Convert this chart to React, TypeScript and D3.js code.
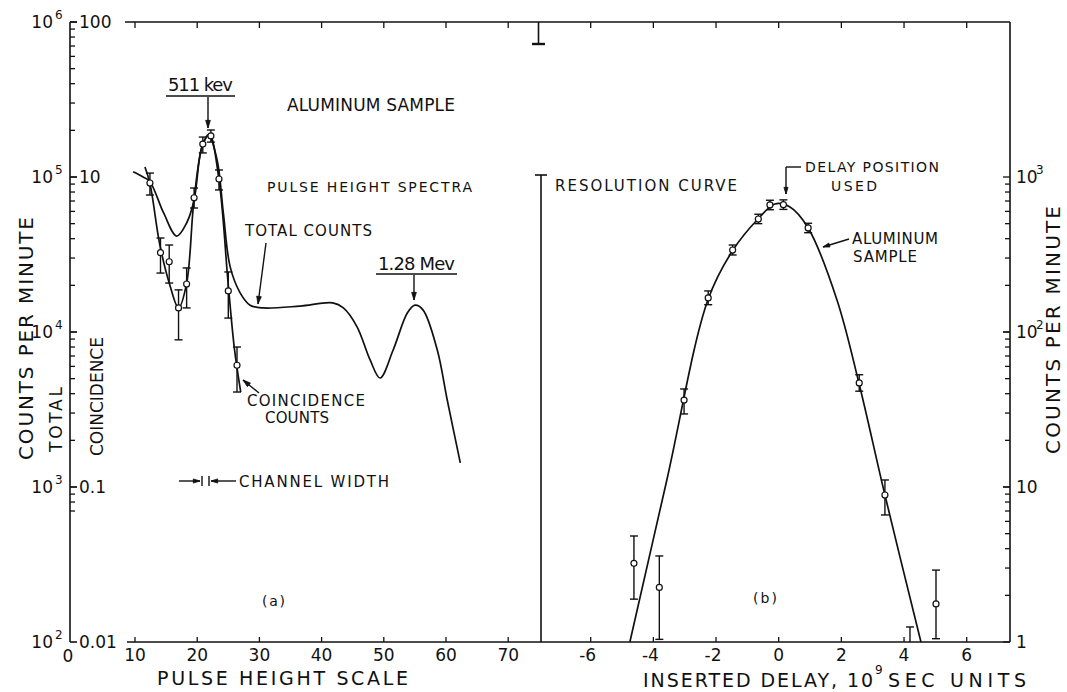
import React from 'react';
import * as d3 from 'd3';

const W = 1067;
const H = 692;
const FONT = "'DejaVu Sans', 'Liberation Sans', sans-serif";

// ---- (a) pulse height spectra ----
const pulseTicks = [10, 20, 30, 40, 50, 60, 70];

// smooth total-counts spectrum (counts per minute)
const totalPulse = [9.7, 11.3, 12.4, 14.6, 16.7, 18.3, 19.5, 20.7, 21.8, 23.2, 24.2, 25.3, 26.9, 28.5, 30.6, 36.5, 41.8, 43.5, 45.7, 47.8, 49.4, 51.5, 53.8, 55.0, 56.3, 58.6, 60.2, 62.3];
const totalCounts = [1.08e5, 1.0e5, 9.33e4, 5.86e4, 4.16e4, 5.05e4, 7.11e4, 1.54e5, 1.87e5, 1.29e5, 5.86e4, 2.63e4, 1.79e4, 1.49e4, 1.43e4, 1.47e4, 1.54e4, 1.43e4, 1.08e4, 6.6e3, 5.05e3, 7.65e3, 1.33e4, 1.49e4, 1.39e4, 7.65e3, 3.64e3, 1.43e3];

// coincidence counts, measured points with error bars
const coincPulse = [12.4, 14.1, 15.5, 17.0, 18.3, 19.5, 20.9, 22.2, 23.5, 25.0, 26.4];
const coincRate = [9.15, 3.25, 2.84, 1.43, 2.04, 7.35, 16.3, 18.4, 9.71, 1.84, 0.61];
const coincLow = [7.65, 2.4, 2.07, 0.89, 1.43, 6.31, 14.3, 16.8, 8.25, 1.23, 0.41];
const coincHigh = [10.6, 4.04, 3.64, 1.87, 2.59, 8.49, 18.1, 20.1, 11.1, 2.44, 0.8];

// coincidence curve drawn through the points
const coincCurvePulse = [11.6, 12.4, 14.0, 15.6, 17.0, 18.3, 19.5, 20.9, 22.0, 23.5, 25.0, 26.0, 27.0];
const coincCurveRate = [11.6, 9.1, 3.64, 2.01, 1.43, 2.06, 7.2, 16.2, 18.7, 9.6, 2.0, 0.77, 0.41];

const totalLabels = ['6', '5', '4', '3', '2'];
const totalLabelValues = [1e6, 1e5, 1e4, 1e3, 1e2];
const coincLabels = ['100', '10', '0.1', '0.01'];
const coincLabelValues = [100, 10, 0.1, 0.01];

// ---- (b) resolution curve ----
const delayTicks = [-6, -4, -2, 0, 2, 4, 6];
const delay = [-4.62, -3.81, -3.02, -2.25, -1.47, -0.65, -0.28, 0.15, 0.94, 2.57, 3.39, 5.02];
const resRate = [3.22, 2.25, 36.4, 166, 338, 536, 660, 663, 469, 46.9, 8.88, 1.76];
const resLow = [1.89, 1.04, 29.6, 150, 314, 500, 615, 618, 437, 41.5, 6.6, 1.05];
const resHigh = [4.83, 3.59, 42.9, 184, 364, 575, 708, 712, 503, 53, 11.1, 2.91];
// point below the scale, only its upper error is visible
const lostDelay = [4.19];
const lostHigh = [1.25];

const fitDelay = [-4.75, -3.57, -2.26, -1.46, -0.66, -0.12, 0.36, 0.94, 1.86, 2.56, 3.39, 4.54];
const fitRate = [1.0, 11.1, 161, 338, 536, 670, 640, 469, 161, 46.9, 8.88, 1.0];

const resLabels = ['1', '10', '10', '10'];
const resSup = ['', '', '2', '3'];
const resLabelValues = [1, 10, 100, 1000];

type ArrowProps = { x1: number; y1: number; x2: number; y2: number; head?: number };
function Arrow({ x1, y1, x2, y2, head = 8 }: ArrowProps) {
  const a = Math.atan2(y2 - y1, x2 - x1);
  const s = 0.3;
  const p1 = [x2 - head * Math.cos(a - s), y2 - head * Math.sin(a - s)];
  const p2 = [x2 - head * Math.cos(a + s), y2 - head * Math.sin(a + s)];
  return (
    <g>
      <line x1={x1} y1={y1} x2={x2} y2={y2} stroke="#111" strokeWidth={1.4} />
      <path d={`M${p1[0]},${p1[1]}L${x2},${y2}L${p2[0]},${p2[1]}Z`} fill="#111" stroke="#111" strokeWidth={0.8} />
    </g>
  );
}

type LabelProps = { x: number; y: number; text: string; size: number; len?: number; anchor?: string; rotate?: boolean };
function Label({ x, y, text, size, len, anchor = 'start', rotate = false }: LabelProps) {
  return (
    <text
      x={rotate ? 0 : x}
      y={rotate ? 0 : y}
      transform={rotate ? `translate(${x},${y}) rotate(-90)` : undefined}
      fontFamily={FONT}
      fontSize={size}
      textAnchor={anchor}
      fill="#111"
      textLength={len}
      lengthAdjust={len ? 'spacing' : undefined}
    >
      {text}
    </text>
  );
}

export default function App() {
  const xA = d3.scaleLinear().domain([0, 70]).range([72.8, 508.2]);
  const xB = d3.scaleLinear().domain([-6, 6]).range([590.7, 966.7]);
  const yTotal = d3.scaleLog().domain([1e2, 1e6]).range([642, 22]);
  const yCoinc = d3.scaleLog().domain([0.01, 100]).range([642, 22]);
  const yRes = d3.scaleLog().domain([1, 1e4]).range([642, 22]);

  const smooth = d3.line<[number, number]>().curve(d3.curveCatmullRom.alpha(0.5));

  const totalPath = smooth(totalPulse.map((p, i) => [xA(p), yTotal(totalCounts[i])]));
  const coincPath = smooth(coincCurvePulse.map((p, i) => [xA(p), yCoinc(coincCurveRate[i])]));
  const fitPath = smooth(fitDelay.map((d, i) => [xB(d), yRes(fitRate[i])]));

  const leftX = 70;
  const rightX = 1010;
  const top = 22;
  const bottom = 642;

  // left-axis ticks (total counts scale)
  const leftTicks: { y: number; major: boolean }[] = [];
  [1e2, 1e3, 1e4, 1e5].forEach((dec) => {
    for (let m = 1; m <= 10; m++) {
      const v = dec * m;
      if (v < 700 || v > 1e6) continue;
      leftTicks.push({ y: yTotal(v), major: m === 1 || m === 10 });
    }
  });
  const rightTicks: { y: number; major: boolean }[] = [];
  [1, 10, 100].forEach((dec) => {
    for (let m = 1; m <= 10; m++) {
      rightTicks.push({ y: yRes(dec * m), major: m === 1 || m === 10 });
    }
  });

  const ink = '#111';

  return (
    <svg
      width={W}
      height={H}
      viewBox={`0 0 ${W} ${H}`}
      style={{ position: 'absolute', left: 0, top: 0, background: '#fff' }}
    >
      <rect x={0} y={0} width={W} height={H} fill="#fff" />

      {/* frame */}
      <g stroke={ink} strokeWidth={1.6} fill="none">
        <line x1={leftX} y1={top} x2={leftX} y2={bottom} />
        <line x1={leftX} y1={top} x2={leftX + 7} y2={top} />
        <line x1={leftX} y1={bottom} x2={leftX + 7} y2={bottom} />
        <line x1={125} y1={top} x2={rightX} y2={top} />
        <line x1={127} y1={bottom} x2={rightX} y2={bottom} />
        <line x1={rightX} y1={top} x2={rightX} y2={bottom} />
        {/* divider between the two panels */}
        <line x1={541} y1={175} x2={541} y2={bottom} />
        <line x1={535} y1={175} x2={547} y2={175} />
        <line x1={538.5} y1={top} x2={538.5} y2={44} />
        <line x1={532} y1={44} x2={545} y2={44} strokeWidth={2.4} />
      </g>

      {/* axis ticks */}
      <g stroke={ink} strokeWidth={1.3}>
        {leftTicks.map((t, i) => (
          <line key={i} x1={leftX} y1={t.y} x2={leftX + (t.major ? 7 : 5)} y2={t.y} />
        ))}
        {rightTicks.map((t, i) => (
          <line key={i} x1={rightX} y1={t.y} x2={rightX - (t.major ? 7 : 5)} y2={t.y} />
        ))}
        {pulseTicks.map((p) => (
          <g key={p}>
            <line x1={xA(p)} y1={bottom} x2={xA(p)} y2={bottom - 5} />
            <line x1={xA(p)} y1={top} x2={xA(p)} y2={top + 6} />
          </g>
        ))}
        {delayTicks.map((d) => (
          <g key={d}>
            <line x1={xB(d)} y1={bottom} x2={xB(d)} y2={bottom - 5} />
            <line x1={xB(d)} y1={top} x2={xB(d)} y2={top + 6} />
          </g>
        ))}
      </g>

      {/* tick labels */}
      <g fontFamily={FONT} fill={ink}>
        {totalLabelValues.map((v, i) => (
          <g key={v}>
            <text x={53} y={yTotal(v) + 6} fontSize={17} textAnchor="end">10</text>
            <text x={55} y={yTotal(v) - 3} fontSize={12}>{totalLabels[i]}</text>
          </g>
        ))}
        {coincLabelValues.map((v, i) => (
          <text key={v} x={79} y={yCoinc(v) + 6} fontSize={17}>{coincLabels[i]}</text>
        ))}
        {resLabelValues.map((v, i) => (
          <g key={v}>
            <text x={1016} y={yRes(v) + 6} fontSize={17}>{resLabels[i]}</text>
            {resSup[i] && <text x={1036} y={yRes(v) - 3} fontSize={12}>{resSup[i]}</text>}
          </g>
        ))}
        <text x={68} y={662} fontSize={17} textAnchor="middle">0</text>
        {pulseTicks.map((p) => (
          <text key={p} x={xA(p)} y={661} fontSize={17} textAnchor="middle">{p}</text>
        ))}
        {delayTicks.map((d) => (
          <text key={d} x={xB(d) - (d < 0 ? 3 : 0)} y={661} fontSize={17} textAnchor="middle">
            {d < 0 ? `-${-d}` : `${d}`}
          </text>
        ))}
      </g>

      {/* axis titles */}
      <Label x={33} y={338.5} text="COUNTS PER MINUTE" size={20} len={243} anchor="middle" rotate />
      <Label x={62} y={419.5} text="TOTAL" size={17} len={65} anchor="middle" rotate />
      <Label x={103} y={396.5} text="COINCIDENCE" size={17} len={119} anchor="middle" rotate />
      <Label x={1060} y={330} text="COUNTS PER MINUTE" size={20} len={248} anchor="middle" rotate />
      <Label x={157} y={685} text="PULSE HEIGHT SCALE" size={19} len={251} />
      <Label x={643} y={687} text="INSERTED DELAY, 10" size={19} len={230} />
      <text x={875} y={674} fontFamily={FONT} fontSize={12} fill={ink}>9</text>
      <Label x={888} y={687} text="SEC UNITS" size={19} len={138} />

      {/* panel (a) annotations */}
      <Label x={287} y={111} text="ALUMINUM SAMPLE" size={17} len={168} />
      <Label x={168} y={91} text="511 kev" size={18} len={65} />
      <line x1={166} y1={96} x2={235} y2={96} stroke={ink} strokeWidth={1.5} />
      <Arrow x1={208} y1={97} x2={208} y2={128} />
      <Label x={267} y={192} text="PULSE HEIGHT SPECTRA" size={14} len={205} />
      <Label x={245} y={236} text="TOTAL COUNTS" size={15} len={127} />
      <Arrow x1={266} y1={243} x2={258} y2={304} />
      <Label x={378} y={270} text="1.28 Mev" size={18} len={77} />
      <line x1={376} y1={274} x2={457} y2={274} stroke={ink} strokeWidth={1.5} />
      <Arrow x1={414} y1={275} x2={414} y2={300} />
      <Label x={247} y={406} text="COINCIDENCE" size={15} len={118} />
      <Label x={265} y={423} text="COUNTS" size={15} len={64} />
      <Arrow x1={259} y1={393} x2={243} y2={380} />
      <Arrow x1={179} y1={481} x2={200} y2={481} head={7} />
      <line x1={202} y1={476} x2={202} y2={486} stroke={ink} strokeWidth={1.4} />
      <line x1={209} y1={476} x2={209} y2={486} stroke={ink} strokeWidth={1.4} />
      <Arrow x1={236} y1={481} x2={211} y2={481} head={7} />
      <Label x={239} y={487} text="CHANNEL WIDTH" size={15} len={150} />
      <Label x={262} y={606} text="(a)" size={14} len={23} />

      {/* panel (b) annotations */}
      <Label x={555} y={191} text="RESOLUTION CURVE" size={15} len={182} />
      <Label x={805} y={172} text="DELAY POSITION" size={14} len={134} />
      <Label x={831} y={191} text="USED" size={14} len={46} />
      <line x1={786} y1={167} x2={801} y2={167} stroke={ink} strokeWidth={1.4} />
      <Arrow x1={786} y1={167} x2={786} y2={194} head={7} />
      <Label x={852} y={244} text="ALUMINUM" size={15} len={86} />
      <Label x={853} y={262} text="SAMPLE" size={15} len={64} />
      <Arrow x1={849} y1={239} x2={823} y2={247} head={7} />
      <Label x={753} y={603} text="(b)" size={14} len={24} />

      {/* curves */}
      <g fill="none" stroke={ink} strokeWidth={1.7} strokeLinejoin="round">
        <path d={totalPath ?? ''} />
        <path d={coincPath ?? ''} />
        <path d={fitPath ?? ''} />
      </g>

      {/* measured points with error bars */}
      <g stroke={ink} strokeWidth={1.4}>
        {coincPulse.map((p, i) => {
          const x = xA(p);
          return (
            <g key={i}>
              <line x1={x} y1={yCoinc(coincLow[i])} x2={x} y2={yCoinc(coincHigh[i])} />
              <line x1={x - 4} y1={yCoinc(coincLow[i])} x2={x + 4} y2={yCoinc(coincLow[i])} />
              <line x1={x - 4} y1={yCoinc(coincHigh[i])} x2={x + 4} y2={yCoinc(coincHigh[i])} />
              <circle cx={x} cy={yCoinc(coincRate[i])} r={3} fill="#fff" strokeWidth={1.2} />
            </g>
          );
        })}
        {delay.map((d, i) => {
          const x = xB(d);
          return (
            <g key={i}>
              <line x1={x} y1={yRes(resLow[i])} x2={x} y2={yRes(resHigh[i])} />
              <line x1={x - 4} y1={yRes(resLow[i])} x2={x + 4} y2={yRes(resLow[i])} />
              <line x1={x - 4} y1={yRes(resHigh[i])} x2={x + 4} y2={yRes(resHigh[i])} />
              <circle cx={x} cy={yRes(resRate[i])} r={3} fill="#fff" strokeWidth={1.2} />
            </g>
          );
        })}
        {lostDelay.map((d, i) => {
          const x = xB(d);
          return (
            <g key={i}>
              <line x1={x} y1={bottom} x2={x} y2={yRes(lostHigh[i])} />
              <line x1={x - 4} y1={yRes(lostHigh[i])} x2={x + 4} y2={yRes(lostHigh[i])} />
            </g>
          );
        })}
      </g>
    </svg>
  );
}
